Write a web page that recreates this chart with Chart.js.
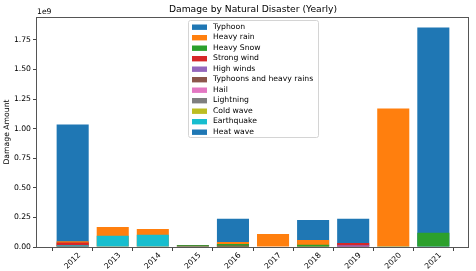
<!DOCTYPE html>
<html>
<head>
<meta charset="utf-8">
<script src="https://cdn.jsdelivr.net/npm/chart.js@4/dist/chart.umd.min.js"></script>
<style>
    html, body { margin: 0; padding: 0; background: #fff; }
    canvas { display: block; }
</style>
</head>
<body>
<canvas id="damageChart" width="476" height="271"></canvas>
<script>
const years = [2012, 2013, 2014, 2015, 2016, 2017, 2018, 2019, 2020, 2021];
const disasterTypes = ['Typhoon', 'Heavy rain', 'Heavy Snow', 'Strong wind', 'High winds',
    'Typhoons and heavy rains', 'Hail', 'Lightning', 'Cold wave', 'Earthquake', 'Heat wave'];

// damage per year, one list per disaster type (same order as disasterTypes)
const typhoon = [1034000000, 0, 0, 0, 239000000, 0, 228000000, 239000000, 0, 1854000000];
const heavyRain = [48000000, 169000000, 152000000, 0, 42000000, 110000000, 60000000, 0, 1169000000, 0];
const heavySnow = [0, 0, 0, 17000000, 26000000, 0, 19000000, 0, 6000000, 121000000];
const strongWind = [38000000, 0, 0, 0, 0, 0, 0, 34000000, 0, 0];
const highWinds = [0, 0, 0, 0, 0, 0, 0, 14000000, 0, 0];
const typhoonsHeavyRains = [0, 0, 0, 11000000, 12000000, 0, 0, 0, 0, 0];
const hail = [0, 0, 0, 0, 0, 0, 0, 0, 0, 0];
const lightning = [0, 0, 0, 0, 0, 0, 0, 0, 0, 0];
const coldWave = [0, 0, 0, 0, 0, 0, 0, 0, 0, 0];
const earthquake = [14000000, 95500000, 104000000, 0, 0, 0, 0, 0, 0, 0];
const heatWave = [0, 0, 0, 0, 0, 0, 0, 0, 0, 0];

const yTickValues = [0, 0.25e9, 0.5e9, 0.75e9, 1.0e9, 1.25e9, 1.5e9, 1.75e9];

const seriesValues = [typhoon, heavyRain, heavySnow, strongWind, highWinds,
    typhoonsHeavyRains, hail, lightning, coldWave, earthquake, heatWave];
const colors = ['#1f77b4', '#ff7f0e', '#2ca02c', '#d62728', '#9467bd', '#8c564b',
    '#e377c2', '#7f7f7f', '#bcbd22', '#17becf', '#1f77b4'];

const FONT = "'DejaVu Sans', sans-serif";

// bars are overlaid (not stacked), later types painted over earlier ones
const datasets = disasterTypes.map((name, i) => ({
    label: name,
    data: years.map((yr, j) => ({ x: yr, y: seriesValues[i][j] })),
    backgroundColor: colors[i],
    borderWidth: 0,
    grouped: false,
    order: -i,
    barPercentage: 0.8,
    categoryPercentage: 1.0
}));

const decorPlugin = {
    id: 'decor',
    afterDraw(chart) {
        const ctx = chart.ctx;
        const area = chart.chartArea;
        const xScale = chart.scales.x;

        ctx.save();
        // axes frame
        ctx.strokeStyle = '#555';
        ctx.lineWidth = 1;
        ctx.strokeRect(Math.round(area.left) - 0.5, Math.round(area.top) + 0.5,
            Math.round(area.right - area.left), Math.round(area.bottom - area.top));

        // title + offset text
        ctx.fillStyle = '#000';
        ctx.textBaseline = 'middle';
        ctx.textAlign = 'center';
        ctx.font = `9.2px ${FONT}`;
        ctx.fillText('Damage by Natural Disaster (Yearly)', (area.left + area.right) / 2, 10);
        ctx.textAlign = 'left';
        ctx.font = `7.7px ${FONT}`;
        ctx.fillText('1e9', area.left, 12.5);

        // rotated year labels, centred under each tick
        ctx.textAlign = 'center';
        years.forEach(yr => {
            ctx.save();
            ctx.translate(xScale.getPixelForValue(yr), area.bottom + 14);
            ctx.rotate(-Math.PI / 4);
            ctx.fillText(String(yr), 0, 0);
            ctx.restore();
        });

        // legend box, upper centre inside the axes
        const boxW = 130, rowH = 10.5;
        const boxH = 117;
        const bx = (area.left + area.right) / 2 - boxW / 2;
        const by = area.top + 3;
        ctx.beginPath();
        ctx.roundRect(bx + 0.5, by + 0.5, boxW, boxH, 2);
        ctx.fillStyle = 'rgba(255,255,255,0.8)';
        ctx.fill();
        ctx.strokeStyle = '#d4d4d4';
        ctx.stroke();

        ctx.font = `7.7px ${FONT}`;
        ctx.textAlign = 'left';
        chart.data.datasets.forEach((ds, i) => {
            const cy = by + 7 + i * rowH;
            ctx.fillStyle = ds.backgroundColor;
            ctx.fillRect(bx + 4, cy - 2.5, 15, 5.4);
            ctx.fillStyle = '#000';
            ctx.fillText(ds.label, bx + 25, cy);
        });
        ctx.restore();
    }
};

new Chart(document.getElementById('damageChart').getContext('2d'), {
    type: 'bar',
    data: { datasets },
    options: {
        responsive: false,
        devicePixelRatio: 1,
        animation: false,
        layout: { padding: { top: 17, right: 7, left: 0, bottom: 0 } },
        plugins: {
            legend: { display: false },
            title: { display: false },
            tooltip: { enabled: false }
        },
        scales: {
            x: {
                type: 'linear',
                min: 2011.11,
                max: 2021.89,
                offset: false,
                afterBuildTicks: axis => { axis.ticks = years.map(v => ({ value: v })); },
                afterFit: axis => { axis.height = 24; },
                ticks: { display: false },
                grid: { drawOnChartArea: false, drawTicks: true, tickLength: 4, color: '#444' },
                border: { display: false }
            },
            y: {
                min: 0,
                max: 1943000000,
                afterBuildTicks: axis => { axis.ticks = yTickValues.map(v => ({ value: v })); },
                afterFit: axis => { axis.width = 37; },
                ticks: {
                    color: '#000',
                    padding: 2,
                    font: { family: FONT, size: 7.7 },
                    callback: v => (v / 1e9).toFixed(2)
                },
                grid: { drawOnChartArea: false, drawTicks: true, tickLength: 4, color: '#444' },
                border: { display: false },
                title: {
                    display: true,
                    text: 'Damage Amount',
                    color: '#000',
                    font: { family: FONT, size: 7.7 },
                    padding: { top: 2, bottom: 0 }
                }
            }
        }
    },
    plugins: [decorPlugin]
});
</script>
</body>
</html>
